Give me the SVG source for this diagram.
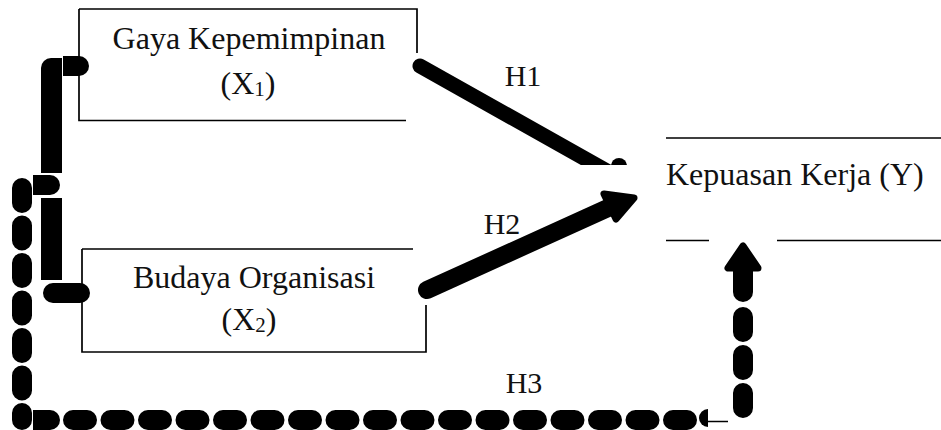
<svg xmlns="http://www.w3.org/2000/svg" width="941" height="430" viewBox="0 0 941 430">
  <style>
    .frame { fill: none; stroke: #000; stroke-width: 1.7; }
    .lbl { font-family: "Liberation Serif", "Times New Roman", serif; font-size: 32px; fill: #111; }
    .hlbl { font-family: "Liberation Serif", "Times New Roman", serif; font-size: 30px; fill: #111; text-anchor: middle; }
    .thick { fill: none; stroke: #000; stroke-linecap: round; }
    .dash { fill: none; stroke: #000; stroke-width: 20; stroke-linecap: round; }
    .ink { fill: #000; }
    .head { fill: #000; stroke: #000; stroke-width: 7; stroke-linejoin: round; }
  </style>
  <defs>
    <clipPath id="h1-clip">
      <rect x="0" y="0" width="941" height="165"/>
    </clipPath>
  </defs>

  <rect width="941" height="430" fill="#fff"/>

  <!-- X1: leadership style -->
  <g id="node-x1">
    <path class="frame" d="M79,9 V120.5 H406 M79,9 H417 V53"/>
    <text class="lbl" x="249" y="49" text-anchor="middle">Gaya Kepemimpinan</text>
    <text class="lbl" x="248" y="94" text-anchor="middle">(X<tspan font-size="21" dy="2">1</tspan><tspan dy="-2">)</tspan></text>
  </g>

  <!-- X2: organisational culture -->
  <g id="node-x2">
    <path class="frame" d="M82,249 V352 H426 V305 M82,249 H413"/>
    <text class="lbl" x="254" y="288" text-anchor="middle">Budaya Organisasi</text>
    <text class="lbl" x="249" y="330" text-anchor="middle">(X<tspan font-size="21" dy="2">2</tspan><tspan dy="-2">)</tspan></text>
  </g>

  <!-- Y: job satisfaction -->
  <g id="node-y">
    <path class="frame" d="M666,138 H941 M666,240.5 H709 M777,240.5 H941"/>
    <text class="lbl" x="666" y="185">Kepuasan Kerja (Y)</text>
  </g>

  <g id="connectors">
    <!-- bracket linking X1 and X2 -->
    <g id="x1-x2-link">
      <path class="ink" d="M63,56 H79 A10,10 0 0 1 79,76 H63 Z"/>
      <path class="ink" d="M41,68 A10,10 0 0 1 51,58 H62 V173 H41 Z"/>
      <path class="ink" d="M33,175 H50 A10,10 0 0 1 50,195 H33 Z"/>
      <rect class="ink" x="41" y="198" width="21" height="82"/>
      <rect class="ink" x="43" y="283" width="47" height="20" rx="10"/>
    </g>

    <!-- H1: X1 to Y -->
    <g id="h1" clip-path="url(#h1-clip)">
      <line class="thick" x1="420" y1="66" x2="630" y2="184" stroke-width="15"/>
      <circle class="ink" cx="619" cy="166" r="8"/>
    </g>
    <text class="hlbl" x="523" y="86">H1</text>

    <!-- H2: X2 to Y -->
    <g id="h2">
      <line class="thick" x1="427" y1="290" x2="608" y2="208" stroke-width="18"/>
      <polygon class="head" points="604,194 634,198 616,219"/>
    </g>
    <text class="hlbl" x="502" y="234">H2</text>

    <!-- H3: dashed route round the bottom to Y -->
    <g id="h3">
      <path class="dash" d="M22,188 V420" stroke-width="21" stroke-dasharray="15 22.5"/>
      <path class="ink" d="M33,410 H50 A10,10 0 0 1 50,430 H33 Z"/>
      <path class="dash" d="M73,420 H700" stroke-dasharray="14 23.5"/>
      <path class="ink" d="M708,409 A9,9 0 0 0 708,427 Z"/>
      <line x1="708" y1="421.5" x2="728" y2="421.5" stroke="#000" stroke-width="1.5"/>
      <path class="dash" d="M743,408 V316" stroke-dasharray="15 23"/>
      <line class="thick" x1="743" y1="292" x2="743" y2="268" stroke-width="20"/>
      <polygon class="head" points="743,246 728,268 758,268"/>
    </g>
    <text class="hlbl" x="524" y="393">H3</text>
  </g>
</svg>
